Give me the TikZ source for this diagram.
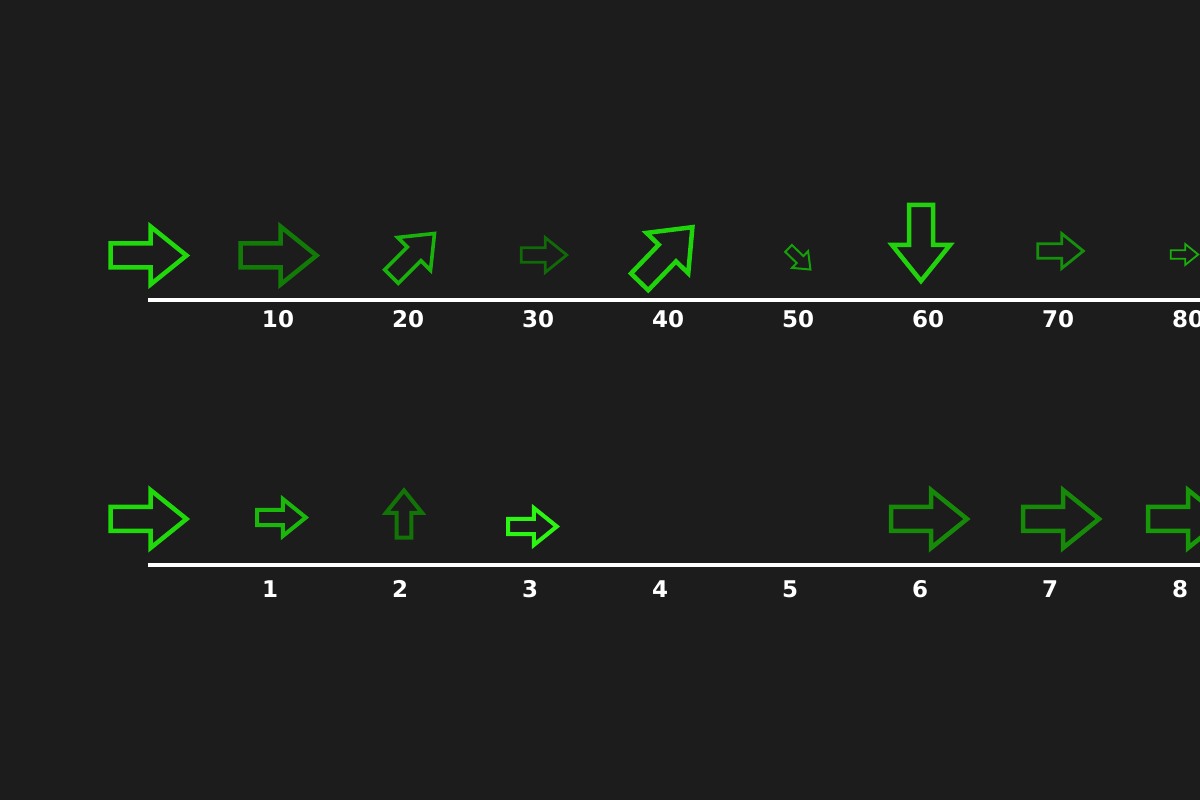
\documentclass[tikz,border=0pt]{standalone}
\usepackage{fontspec}
\setmainfont{DejaVu Sans}
\definecolor{bg}{HTML}{1C1C1C}
\definecolor{gA}{HTML}{1FD90A}
\definecolor{gB}{HTML}{127A06}
\definecolor{gC}{HTML}{19B20C}
\definecolor{gD}{HTML}{106A08}
\definecolor{gE}{HTML}{20D40C}
\definecolor{gF}{HTML}{15A00A}
\definecolor{gG}{HTML}{21D20C}
\definecolor{gH}{HTML}{15900C}
\definecolor{gI}{HTML}{19AE0C}
\definecolor{gJ}{HTML}{1BB80C}
\definecolor{gK}{HTML}{127406}
\definecolor{gL}{HTML}{2CF514}
\definecolor{gM}{HTML}{168A08}
\definecolor{gN}{HTML}{179808}
\tikzset{
  lbl/.style={text=white, font=\fontsize{23}{28}\selectfont\bfseries, inner sep=0pt},
  axisline/.style={white, line width=4.5pt},
}
% x, y, scale, angle, colour, stroke width
\newcommand\greenarrow[6]{%
  \begin{scope}[shift={(#1,#2)}, rotate=#4, scale=#3]
    \draw[draw=#5, line width=#6, line join=miter, miter limit=10]
      (-38,12) -- (2,12) -- (2,29) -- (38,0) -- (2,-29) -- (2,-12) -- (-38,-12) -- cycle;
  \end{scope}}
\begin{document}
\begin{tikzpicture}[x=1pt,y=1pt]
\useasboundingbox (0,0) rectangle (1200,800);
\fill[bg] (0,0) rectangle (1200,800);
\clip (0,0) rectangle (1200,800);
% axes
\coordinate (ta) at (148,500);
\coordinate (tb) at (1200,500);
\coordinate (ba) at (148,235);
\coordinate (bb) at (1200,235);
\draw[axisline] (ta) -- (tb);
\draw[axisline] (ba) -- (bb);
% top labels
\foreach \k/\t in {1/10,2/20,3/30,4/40,5/50,6/60,7/70,8/80}
  \node[lbl] (tl\k) at ({278+130*(\k-1)},481) {\t};
% bottom labels
\foreach \k in {1,...,8}
  \node[lbl] (bl\k) at ({270+130*(\k-1)},211) {\k};
% top arrows
\greenarrow{148.5}{544.5}{1}{0}{gA}{4.5pt}
\greenarrow{278.5}{544.5}{1}{0}{gB}{4.5pt}
\greenarrow{413}{545}{0.8}{45}{gC}{3.6pt}
\greenarrow{544}{545}{0.6}{0}{gD}{2.8pt}
\greenarrow{666}{545.5}{1}{46}{gE}{4.5pt}
\greenarrow{799.5}{541}{0.4}{-44}{gF}{2pt}
\greenarrow{921}{557}{1}{-90}{gG}{4.5pt}
\greenarrow{1060.5}{549}{0.6}{0}{gH}{2.8pt}
\greenarrow{1184.5}{545.5}{0.36}{0}{gI}{1.8pt}
% bottom arrows
\greenarrow{148.5}{281}{1}{0}{gA}{4.5pt}
\greenarrow{281.5}{282.5}{0.64}{0}{gJ}{4pt}
\greenarrow{404}{286}{0.62}{90}{gK}{4pt}
\greenarrow{532.5}{273.5}{0.64}{0}{gL}{4pt}
\greenarrow{929}{281}{1}{0}{gM}{4.5pt}
\greenarrow{1061}{281}{1}{0}{gM}{4.5pt}
\greenarrow{1186}{281}{1}{0}{gN}{4.5pt}
\end{tikzpicture}
\end{document}
